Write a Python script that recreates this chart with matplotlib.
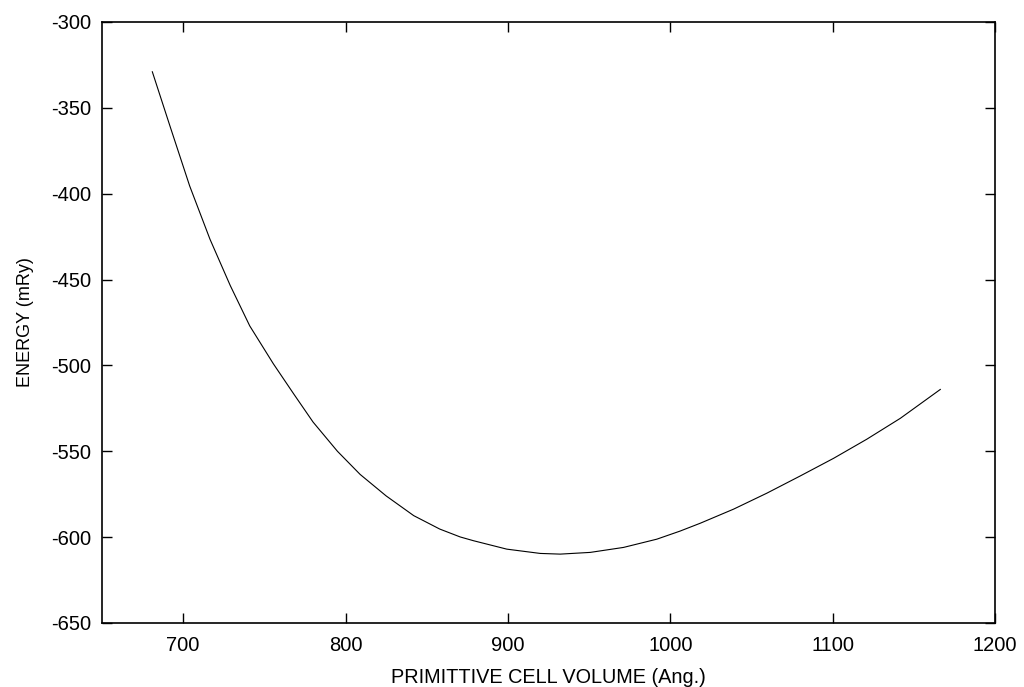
import matplotlib
matplotlib.use('Agg')
import matplotlib.pyplot as plt

plt.rcParams['font.family'] = ['Liberation Sans', 'DejaVu Sans']
plt.rcParams['axes.unicode_minus'] = False

# values
volume = [681, 692, 704, 716.5, 729, 741, 755.5, 768, 780, 795, 809, 825,
          842, 858, 870.6, 878.8, 899.3, 919.9, 932.2, 950.7, 971.2, 991.7,
          1006, 1018.5, 1039, 1059.5, 1080, 1100.6, 1121, 1141.7, 1166.3]
energy = [-329, -361, -395.5, -426.5, -453.5, -477, -499, -516.5, -533,
          -550, -563.5, -576, -587.5, -595.3, -599.9, -602.1, -607.0, -609.5,
          -609.9, -608.9, -606.0, -601.2, -596.5, -591.9, -583.7, -574.4,
          -564.4, -554.1, -543.0, -530.8, -514]

xticks = [700, 800, 900, 1000, 1100, 1200]
yticks = [-650, -600, -550, -500, -450, -400, -350, -300]

fig = plt.figure(figsize=(10.24, 6.87), dpi=100)
ax = fig.add_axes([0.0996, 0.0932, 0.8721, 0.8748])

ax.plot(volume, energy, color='black', linewidth=0.8)

ax.set_xlim(650, 1200)
ax.set_ylim(-650, -300)
ax.set_xticks(xticks)
ax.set_yticks(yticks)
ax.tick_params(direction='in', length=7, width=1, top=True, right=True,
               labelsize=14.5)
ax.tick_params(axis='x', pad=9.5)
ax.tick_params(axis='y', pad=8)
for s in ax.spines.values():
    s.set_linewidth(1.2)

ax.set_xlabel('PRIMITTIVE CELL VOLUME (Ang.)', fontsize=14.3, labelpad=9)
ax.set_ylabel('ENERGY (mRy)', fontsize=13, labelpad=12)

fig.savefig('out.png', dpi=100)
